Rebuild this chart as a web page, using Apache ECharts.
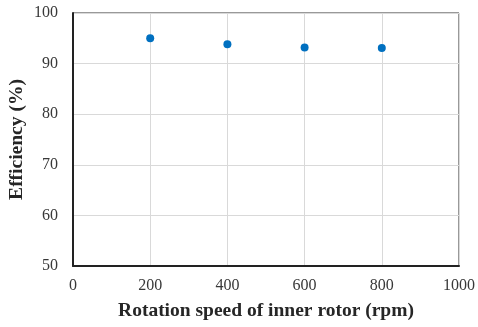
<!DOCTYPE html>
<html><head><meta charset="utf-8">
<script src="https://cdn.jsdelivr.net/npm/echarts@6/dist/echarts.min.js"></script>
<style>html,body{margin:0;padding:0;background:#fff}#c{width:478px;height:327px}</style>
</head><body><div id="c"></div>
<script>
const speeds = [200, 400, 600, 800];
const efficiency = [95.0, 93.8, 93.2, 93.1];
const xTicks = [0, 200, 400, 600, 800, 1000];
const yTicks = [50, 60, 70, 80, 90, 100];
const xTitle = 'Rotation speed of inner rotor (rpm)';
const yTitle = 'Efficiency (%)';

const font = 'Liberation Serif';
const chart = echarts.init(document.getElementById('c'));
chart.setOption({
  animation: false,
  grid: {left: 73, top: 13, right: 19, bottom: 61, show: true, borderColor: '#333', borderWidth: 1,
         containLabel: false, outerBoundsMode: 'none'},
  xAxis: {
    type: 'value', min: xTicks[0], max: xTicks[xTicks.length-1], interval: 200,
    name: xTitle, nameLocation: 'middle', nameGap: 35, nameMoveOverlap: false,
    nameTextStyle: {fontFamily: font, fontWeight: 'bold', fontSize: 19.5, color: '#262626'},
    axisLine: {show: true, lineStyle: {color: '#222', width: 2}},
    axisTick: {show: false},
    axisLabel: {fontFamily: font, fontSize: 16, color: '#383838', margin: 12, formatter: v => String(v)},
    splitLine: {show: true, lineStyle: {color: '#d9d9d9', width: 1}}
  },
  yAxis: {
    type: 'value', min: yTicks[0], max: yTicks[yTicks.length-1], interval: 10,
    name: yTitle, nameLocation: 'middle', nameGap: 46, nameMoveOverlap: false,
    nameTextStyle: {fontFamily: font, fontWeight: 'bold', fontSize: 19.5, color: '#262626'},
    axisLine: {show: true, lineStyle: {color: '#222', width: 2}},
    axisTick: {show: false},
    axisLabel: {fontFamily: font, fontSize: 16, color: '#383838', margin: 15, formatter: v => String(v)},
    splitLine: {show: true, lineStyle: {color: '#d9d9d9', width: 1}}
  },
  series: [{
    type: 'scatter',
    data: speeds.map((s, i) => [s, efficiency[i]]),
    symbol: 'circle', symbolSize: 8,
    itemStyle: {color: '#0070C0', opacity: 1}
  }]
});
</script></body></html>
